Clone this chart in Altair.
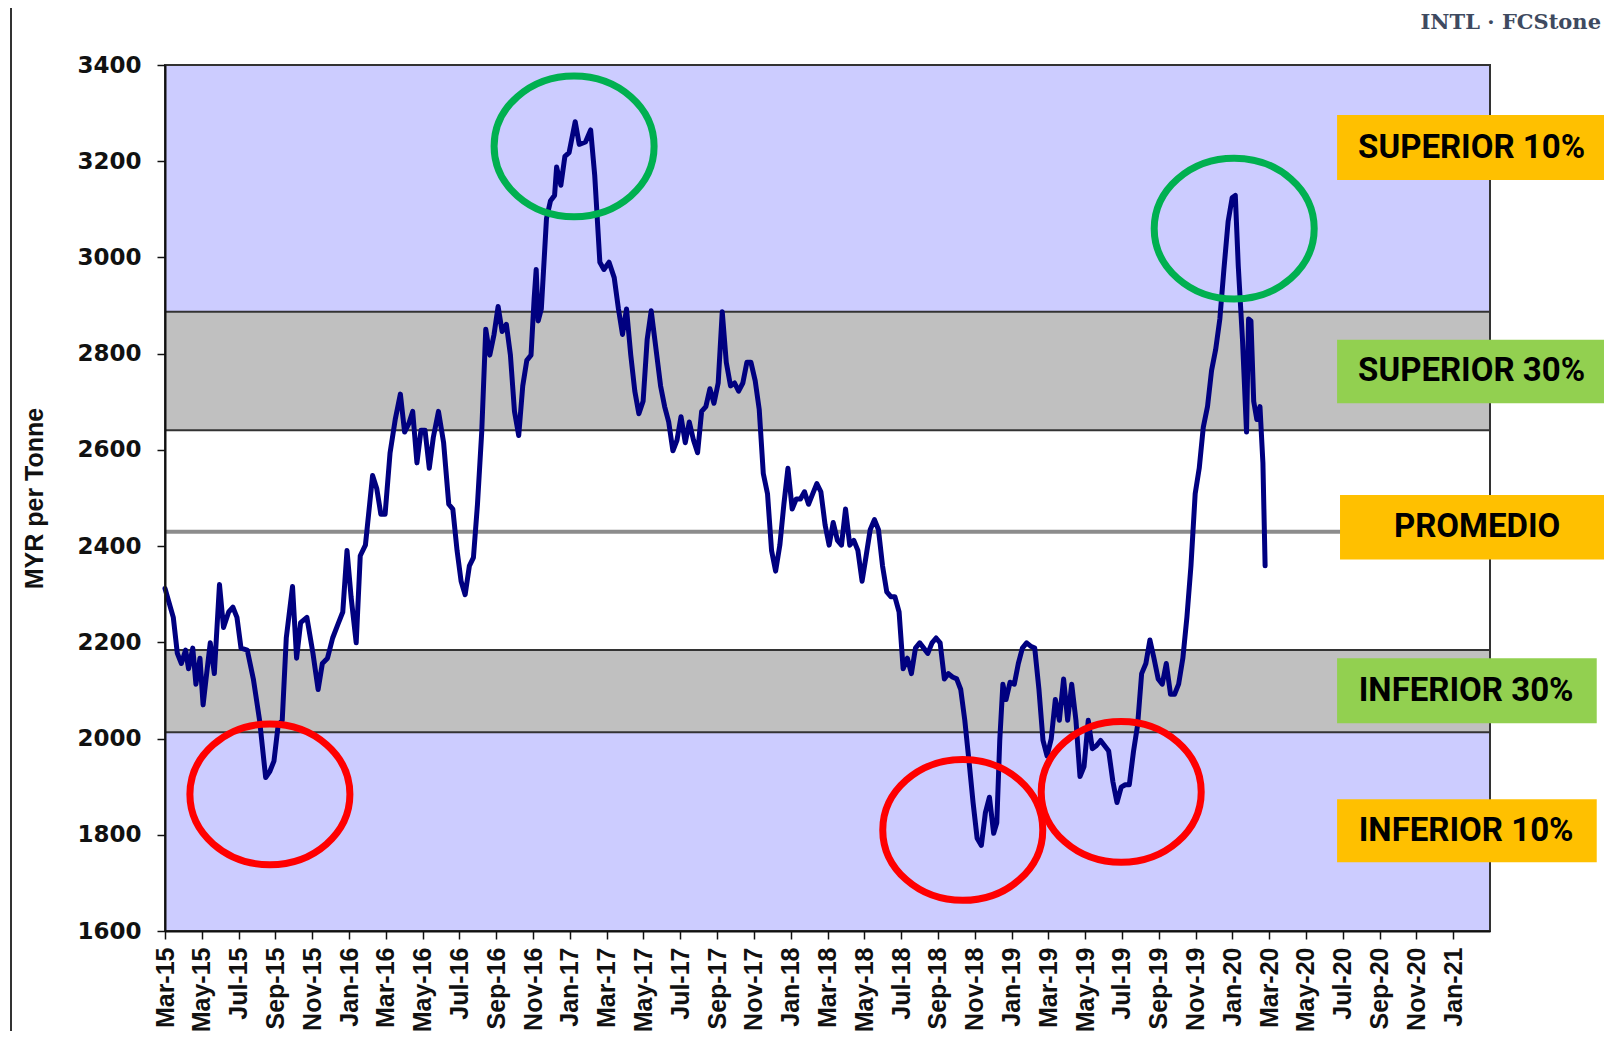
import altair as alt
import pandas as pd

# ---- price series (months since Mar-2015, MYR per tonne) ----
months = [0.00, 0.45, 0.67, 0.89, 1.12, 1.28, 1.51, 1.68, 1.90, 2.07, 2.23, 2.46, 2.68, 2.96, 3.18, 3.46, 3.69, 3.91,
          4.13, 4.47, 4.80, 5.14, 5.47, 5.70, 5.92, 6.15, 6.37, 6.59, 6.93, 7.15, 7.37, 7.71, 8.04, 8.32, 8.55, 8.83,
          9.11, 9.39, 9.66, 9.89, 10.11, 10.39, 10.61, 10.89, 11.12, 11.28, 11.51, 11.73, 11.96, 12.23, 12.51, 12.79,
          13.02, 13.24, 13.46, 13.69, 13.91, 14.13, 14.36, 14.58, 14.86, 15.14, 15.42, 15.64, 15.87, 16.09, 16.31,
          16.54, 16.76, 16.98, 17.21, 17.43, 17.65, 17.88, 18.10, 18.32, 18.55, 18.77, 18.99, 19.22, 19.44, 19.66,
          19.89, 20.06, 20.17, 20.28, 20.45, 20.61, 20.73, 20.95, 21.17, 21.28, 21.51, 21.73, 21.96, 22.18, 22.29,
          22.51, 22.85, 23.13, 23.35, 23.63, 23.85, 24.13, 24.41, 24.64, 24.86, 25.08, 25.31, 25.53, 25.75, 25.98,
          26.20, 26.42, 26.65, 26.93, 27.15, 27.37, 27.60, 27.82, 28.04, 28.27, 28.49, 28.72, 28.94, 29.16, 29.39,
          29.61, 29.83, 30.06, 30.28, 30.50, 30.73, 30.95, 31.17, 31.40, 31.62, 31.84, 32.07, 32.29, 32.51, 32.74,
          32.96, 33.18, 33.41, 33.63, 33.85, 34.08, 34.30, 34.53, 34.75, 34.97, 35.20, 35.42, 35.64, 35.87, 36.09,
          36.31, 36.54, 36.76, 36.98, 37.21, 37.43, 37.65, 37.88, 38.10, 38.32, 38.55, 38.77, 38.99, 39.22, 39.44,
          39.66, 39.89, 40.11, 40.34, 40.56, 40.78, 41.01, 41.23, 41.45, 41.68, 41.90, 42.12, 42.35, 42.57, 42.79,
          43.02, 43.24, 43.46, 43.69, 43.91, 44.13, 44.36, 44.58, 44.80, 45.03, 45.20, 45.36, 45.53, 45.70, 45.92,
          46.15, 46.37, 46.59, 46.82, 47.04, 47.26, 47.49, 47.71, 47.93, 48.16, 48.38, 48.60, 48.83, 49.05, 49.27,
          49.50, 49.72, 49.94, 50.17, 50.39, 50.61, 50.84, 51.06, 51.28, 51.51, 51.73, 51.96, 52.18, 52.40, 52.63,
          52.85, 53.07, 53.30, 53.52, 53.74, 53.97, 54.19, 54.41, 54.64, 54.86, 55.08, 55.31, 55.53, 55.75, 55.98,
          56.20, 56.42, 56.65, 56.87, 57.09, 57.32, 57.54, 57.77, 57.99, 58.16, 58.32, 58.55, 58.77, 58.88, 59.01,
          59.16, 59.33, 59.50, 59.66, 59.78]
price = [2312, 2252, 2177, 2156, 2184, 2145, 2188, 2113, 2167, 2070, 2124, 2199, 2135, 2320, 2231, 2263, 2273, 2252,
         2188, 2184, 2124, 2038, 1919, 1932, 1953, 2028, 2038, 2209, 2316, 2167, 2241, 2252, 2177, 2102, 2156, 2167,
         2209, 2237, 2263, 2391, 2295, 2199, 2380, 2402, 2487, 2547, 2519, 2466, 2466, 2594, 2663, 2716,
         2637, 2654, 2680, 2573, 2641, 2641, 2562, 2626, 2680, 2615, 2487, 2477, 2391, 2327, 2299,
         2359, 2376, 2487, 2637, 2851, 2797, 2840, 2898, 2846, 2861, 2797, 2680, 2630, 2733, 2786,
         2797, 2915, 2975, 2868, 2893, 3000, 3081, 3118, 3129, 3188, 3150, 3210, 3218, 3261, 3282,
         3235, 3240, 3265, 3171, 2990, 2975, 2990, 2958, 2893, 2840, 2893, 2797, 2722, 2675, 2701,
         2829, 2889, 2819, 2733, 2690, 2658, 2598, 2620, 2669, 2615, 2658, 2620, 2594, 2680, 2690,
         2727, 2697, 2739, 2887, 2782, 2733, 2739, 2722, 2739, 2782, 2782, 2744, 2684, 2551, 2509,
         2391, 2348, 2402, 2487, 2562, 2477, 2498, 2498, 2513, 2487, 2509, 2530, 2513, 2444, 2402,
         2449, 2412, 2402, 2477, 2402, 2412, 2391, 2327, 2380, 2434, 2455, 2434, 2359, 2305, 2295,
         2295, 2263, 2145, 2167, 2135, 2188, 2199, 2188, 2177, 2199, 2209, 2199, 2124, 2135, 2128,
         2124, 2102, 2038, 1953, 1867, 1793, 1778, 1846, 1878, 1803, 1825, 1996, 2113, 2081, 2117,
         2113, 2156, 2188, 2199, 2192, 2188, 2102, 1996, 1964, 2000, 2081, 2038, 2124, 2038, 2113,
         2038, 1921, 1942, 2038, 1979, 1985, 1996, 1985, 1974, 1910, 1867, 1899, 1904, 1904, 1974,
         2028, 2135, 2156, 2205, 2167, 2124, 2113, 2156, 2092, 2092, 2113, 2167, 2252, 2359, 2509,
         2562, 2647, 2690, 2765, 2808, 2872, 2975, 3075, 3124, 3129, 2983, 2829, 2637, 2872, 2868,
         2701, 2663, 2690, 2573, 2359]

tick_labels = ["Mar-15", "May-15", "Jul-15", "Sep-15", "Nov-15",
               "Jan-16", "Mar-16", "May-16", "Jul-16", "Sep-16", "Nov-16",
               "Jan-17", "Mar-17", "May-17", "Jul-17", "Sep-17", "Nov-17",
               "Jan-18", "Mar-18", "May-18", "Jul-18", "Sep-18", "Nov-18",
               "Jan-19", "Mar-19", "May-19", "Jul-19", "Sep-19", "Nov-19",
               "Jan-20", "Mar-20", "May-20", "Jul-20", "Sep-20", "Nov-20",
               "Jan-21"]
tick_months = [2 * i for i in range(len(tick_labels))]
y_ticks = [1600, 1800, 2000, 2200, 2400, 2600, 2800, 3000, 3200, 3400]

# ---- percentile bands ----
band_low = [1600, 2013, 2184, 2641, 2887]
band_high = [2013, 2184, 2641, 2887, 3400]
band_fill = ["#CCCCFF", "#C0C0C0", "#FFFFFF", "#C0C0C0", "#CCCCFF"]
band_edges = [2013, 2184, 2641, 2887]
promedio = [2430]

# ---- highlighted extremes (ellipses) ----
circle_month = [22.23, 58.10, 5.70, 43.35, 51.96]
circle_value = [3231, 3060, 1884, 1810, 1889]
circle_color = ["#00B050", "#00B050", "#FF0000", "#FF0000", "#FF0000"]

# ---- right-hand labels ----
label_text = ["SUPERIOR 10%", "SUPERIOR 30%", "PROMEDIO", "INFERIOR 30%", "INFERIOR 10%"]
label_fill = ["#FFC000", "#92D050", "#FFC000", "#92D050", "#FFC000"]
label_m0 = [63.69, 63.69, 63.85, 63.69, 63.69]
label_m1 = [78.6, 78.6, 78.7, 77.8, 77.8]
label_v0 = [3161, 2697, 2372, 2032, 1743]
label_v1 = [3296, 2829, 2506, 2167, 1874]
label_mc = [71.0, 71.0, 71.3, 70.7, 70.7]

logo_text = ["INTL · FCStone"]

X0, X1 = 0, 72
Y0, Y1 = 1600, 3400

label_expr = "[" + ",".join("'%s'" % t for t in tick_labels) + "][round(datum.value / 2)]"

x_scale = alt.Scale(domain=[X0, X1], nice=False, zero=False)
y_scale = alt.Scale(domain=[Y0, Y1], nice=False, zero=False)

x_axis = alt.Axis(values=tick_months, labelExpr=label_expr, labelAngle=-90, labelAlign="right",
                  labelBaseline="middle", labelFont="Liberation Sans", labelFontWeight="bold",
                  labelFontSize=25, labelColor="#111111", labelPadding=8, labelFlush=False,
                  labelOverlap=False, tickSize=8, tickColor="#111111", tickWidth=1.5,
                  domainColor="#111111", domainWidth=2, grid=False, title=None, zindex=2)
y_axis = alt.Axis(values=y_ticks, format="d", labelFont="DejaVu Sans", labelFontWeight="bold",
                  labelFontSize=23, labelColor="#111111", labelPadding=16, tickSize=8,
                  tickColor="#111111", tickWidth=1.5, domainColor="#111111", domainWidth=2, grid=False,
                  title="MYR per Tonne", titleFont="Liberation Sans", titleFontWeight="bold",
                  titleFontSize=25, titleColor="#111111", titlePadding=29, zindex=2)

bands_df = pd.DataFrame({"x0": [X0] * 5, "x1": [X1] * 5, "lo": band_low, "hi": band_high, "fill": band_fill})
bands = alt.Chart(bands_df).mark_rect().encode(
    x=alt.X("x0:Q", scale=x_scale, axis=x_axis),
    x2="x1:Q",
    y=alt.Y("lo:Q", scale=y_scale, axis=y_axis),
    y2="hi:Q",
    color=alt.Color("fill:N", scale=None),
)

edges_df = pd.DataFrame({"v": band_edges})
edges = alt.Chart(edges_df).mark_rule(color="#333333", strokeWidth=2).encode(
    y=alt.Y("v:Q", scale=y_scale, axis=y_axis),
)

prom_df = pd.DataFrame({"v": promedio})
prom = alt.Chart(prom_df).mark_rule(color="#8C8C8C", strokeWidth=4).encode(
    y=alt.Y("v:Q", scale=y_scale, axis=y_axis),
)

price_df = pd.DataFrame({"m": months, "v": price})
line = alt.Chart(price_df).mark_line(color="#000080", strokeWidth=5, strokeJoin="round",
                                     strokeCap="round").encode(
    x=alt.X("m:Q", scale=x_scale, axis=x_axis),
    y=alt.Y("v:Q", scale=y_scale, axis=y_axis),
)

border_df = pd.DataFrame({"x0": [X0], "x1": [X1], "lo": [Y0], "hi": [Y1]})
border = alt.Chart(border_df).mark_rect(fillOpacity=0, stroke="#333333", strokeWidth=2).encode(
    x=alt.X("x0:Q", scale=x_scale, axis=x_axis),
    x2="x1:Q",
    y=alt.Y("lo:Q", scale=y_scale, axis=y_axis),
    y2="hi:Q",
)

ellipse_path = "M -1 0 A 1 0.88 0 1 1 1 0 A 1 0.88 0 1 1 -1 0 Z"
circ_df = pd.DataFrame({"m": circle_month, "v": circle_value, "c": circle_color})
circles = alt.Chart(circ_df).mark_point(shape=ellipse_path, size=25600, filled=False,
                                        strokeWidth=7, opacity=1).encode(
    x=alt.X("m:Q", scale=x_scale, axis=x_axis),
    y=alt.Y("v:Q", scale=y_scale, axis=y_axis),
    stroke=alt.Color("c:N", scale=None),
)

lab_df = pd.DataFrame({"t": label_text, "f": label_fill, "m0": label_m0, "m1": label_m1,
                       "v0": label_v0, "v1": label_v1, "mc": label_mc,
                       "vc": [(a + b) / 2 for a, b in zip(label_v0, label_v1)]})
boxes = alt.Chart(lab_df).mark_rect().encode(
    x=alt.X("m0:Q", scale=x_scale, axis=x_axis),
    x2="m1:Q",
    y=alt.Y("v0:Q", scale=y_scale, axis=y_axis),
    y2="v1:Q",
    color=alt.Color("f:N", scale=None),
)
box_text = alt.Chart(lab_df).mark_text(font="Roboto", fontWeight="bold", fontSize=33,
                                       color="#000000", align="center", baseline="middle").encode(
    x=alt.X("mc:Q", scale=x_scale, axis=x_axis),
    y=alt.Y("vc:Q", scale=y_scale, axis=y_axis),
    text="t:N",
)

logo = alt.Chart(pd.DataFrame({"t": logo_text})).mark_text(
    font="DejaVu Serif", fontWeight="bold", fontSize=21, color="#3E4A60", align="right", baseline="middle"
).encode(x=alt.value(1436), y=alt.value(-42), text="t:N")

frame = alt.Chart(pd.DataFrame({"a": [0]})).mark_rule(color="#333333", strokeWidth=2).encode(
    x=alt.value(-154), y=alt.value(-57), y2=alt.value(966)
)

chart = alt.layer(bands, edges, prom, line, border, circles, boxes, box_text, logo, frame).properties(
    width=1325, height=866,
    padding={"left": 157, "top": 57, "right": 114, "bottom": 100},
    autosize=alt.AutoSizeParams(type="none"),
    background="#FFFFFF",
).configure_view(stroke=None)

chart.save("out.html", embed_options={"renderer": "svg", "actions": False})
